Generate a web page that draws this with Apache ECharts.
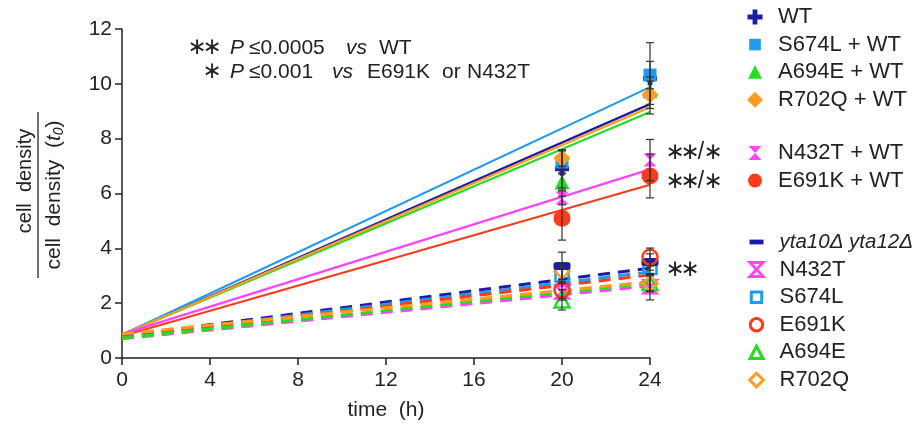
<!DOCTYPE html>
<html><head><meta charset="utf-8">
<script src="https://cdn.jsdelivr.net/npm/echarts@6/dist/echarts.min.js"></script>
<style>html,body{margin:0;padding:0;background:#fff}#c{width:920px;height:428px}</style>
</head><body><div id="c"></div>
<script>
// ---- data ----
const timePoints = [20, 24];
const fitTimes = [0, 24];
const xTicks = [0, 4, 8, 12, 16, 20, 24];
const yTicks = [0, 2, 4, 6, 8, 10, 12];
const seriesNames = ['WT', 'S674L + WT', 'A694E + WT', 'R702Q + WT', 'N432T + WT', 'E691K + WT',
  'yta10Δ yta12Δ', 'N432T', 'S674L', 'E691K', 'A694E', 'R702Q'];
// mean values at 20 h and 24 h
const seriesMeans = [
  [6.9, 10.2], [7.15, 10.32], [6.42, 9.75], [7.29, 9.6], [5.84, 7.22], [5.1, 6.64],
  [3.36, 3.5], [2.41, 2.6], [3.03, 3.3], [2.48, 3.68], [2.12, 2.75], [3.17, 2.72]
];
// error (±) at 20 h and 24 h
const seriesErrors = [
  [0.7, 1.3], [0.4, 0.5], [0.3, 0.5], [0.3, 0.5], [0.25, 0.75], [0.8, 0.8],
  [0.5, 0.3], [0.3, 0.48], [0.3, 0.3], [0.3, 0.33], [0.37, 0.3], [0.3, 0.3]
];
// linear fit values at 0 h and 24 h
const seriesFits = [
  [0.85, 9.26], [0.85, 9.88], [0.85, 8.97], [0.85, 9.15], [0.87, 6.88], [0.8, 6.32],
  [0.8, 3.28], [0.7, 2.63], [0.78, 3.14], [0.75, 3.03], [0.73, 2.73], [0.88, 2.78]
];

// ---- styles ----
const FONT = 'Liberation Sans, Arial, sans-serif';
const colors = ['#1c1ca8', '#1e9bf0', '#22dd22', '#ff9b1e', '#ff44ff', '#ff3a1a',
  '#1c1ca8', '#ff44ff', '#1e9bf0', '#ff3a1a', '#22dd22', '#ff9b1e'];
const CROSS = 'path://M4,0H8V4H12V8H8V12H4V8H0V4H4Z';
const HOUR = 'path://M0,0H10L0,12H10Z';
const symbols = [CROSS, 'rect', 'triangle', 'diamond', HOUR, 'circle',
  'roundRect', HOUR, 'rect', 'circle', 'triangle', 'diamond'];
const symbolSizes = [14, 13, 15, 17, 13, 17, [17, 8], 13, 13, 15, 15, 15];
// legend icons padded inside a 16x16 box
const B = 'path://M0,0M16,16';
const L_CROSS = B + 'M5.6,0.5H10.4V5.6H15.5V10.4H10.4V15.5H5.6V10.4H0.5V5.6H5.6Z';
const L_RECT = B + 'M2.2,2.2H13.8V13.8H2.2Z';
const L_TRI = B + 'M8,1L15,14.5H1Z';
const L_DIA = B + 'M8,0L16,8L8,16L0,8Z';
const L_HOUR = B + 'M1.5,1H14.5L1.5,15H14.5Z';
const L_CIRC = B + 'M1,8A7,7 0 1 1 15,8A7,7 0 1 1 1,8Z';
const L_DASH = B + 'M1,5.6H15V10.4H1Z';
const L_HRECT = B + 'M2.8,2.8H13.2V13.2H2.8Z';
const L_HCIRC = B + 'M1.8,8A6.2,6.2 0 1 1 14.2,8A6.2,6.2 0 1 1 1.8,8Z';
const L_HTRI = B + 'M8,1.8L14.5,14.2H1.5Z';
const L_HDIA = B + 'M8,1.2L14.8,8L8,14.8L1.2,8Z';
const legendIcons = [L_CROSS, L_RECT, L_TRI, L_DIA, L_HOUR, L_CIRC,
  L_DASH, L_HOUR, L_HRECT, L_HCIRC, L_HTRI, L_HDIA];
const hollow = i => i >= 7;

const series = [];
seriesNames.forEach((n, i) => {
  const dashed = i >= 6;
  series.push({
    name: n + ' fit', type: 'line', silent: true, z: 2,
    data: fitTimes.map((t, k) => [t, seriesFits[i][k]]),
    showSymbol: false, symbol: 'none',
    lineStyle: { color: colors[i], width: dashed ? 3 : 2.2, type: dashed ? [12, 8] : 'solid' }
  });
});
const scatterOrder = [0, 1, 2, 3, 4, 5, 7, 8, 10, 11, 6, 9];
scatterOrder.forEach(i => {
  const n = seriesNames[i];
  series.push({
    name: n, type: 'scatter', z: 4,
    data: timePoints.map((t, k) => [t, seriesMeans[i][k]]),
    symbol: symbols[i], symbolSize: symbolSizes[i],
    itemStyle: hollow(i)
      ? { color: 'rgba(255,255,255,0)', borderColor: colors[i], borderWidth: 2.5, opacity: 1 }
      : { color: colors[i], opacity: 1 }
  });
});
seriesNames.forEach((n, i) => {
  series.push({
    name: n + ' err', type: 'custom', z: 6, silent: true,
    data: timePoints.map((t, k) => [t, seriesMeans[i][k] - seriesErrors[i][k], seriesMeans[i][k] + seriesErrors[i][k]]),
    encode: { x: 0, y: [1, 2] },
    renderItem: (params, api) => {
      const lo = api.coord([api.value(0), api.value(1)]);
      const hi = api.coord([api.value(0), api.value(2)]);
      const w = 4, st = { stroke: '#333', lineWidth: 1.2 };
      return { type: 'group', children: [
        { type: 'line', shape: { x1: lo[0], y1: lo[1], x2: hi[0], y2: hi[1] }, style: st },
        { type: 'line', shape: { x1: lo[0] - w, y1: lo[1], x2: lo[0] + w, y2: lo[1] }, style: st },
        { type: 'line', shape: { x1: hi[0] - w, y1: hi[1], x2: hi[0] + w, y2: hi[1] }, style: st }
      ] };
    }
  });
});

function legendData(idx) {
  return idx.map(i => ({
    name: seriesNames[i], icon: legendIcons[i],
    itemStyle: hollow(i)
      ? { color: 'rgba(255,255,255,0)', borderColor: colors[i], borderWidth: 3 }
      : { color: colors[i], borderWidth: 0 }
  }));
}
const legendText = { fontSize: 22, fontFamily: FONT, color: '#222', padding: [0, 0, 0, 10], lineHeight: 22,
  rich: { it: { fontSize: 20.5, fontFamily: FONT, fontStyle: 'italic', color: '#222', lineHeight: 22 } } };
const legendBase = { orient: 'vertical', left: 747, padding: 0, itemWidth: 16, itemHeight: 16, itemGap: 5.6,
  selectedMode: false, textStyle: legendText };

// asterisk / annotation helpers (real text)
const AST = '23px DejaVu Sans';
function ast(x, y) {
  return { type: 'text', x: x, y: y, style: { text: '∗', font: AST, fill: '#222', align: 'center', verticalAlign: 'middle' } };
}
function slash(x, y) {
  return { type: 'text', x: x, y: y, style: { text: '/', font: '23px ' + FONT, fill: '#222', align: 'center', verticalAlign: 'middle' } };
}
function txt(s, x, y, italic) {
  return { type: 'text', x: x, y: y, style: { text: s, font: (italic ? 'italic ' : '') + '21px ' + FONT, fill: '#222', verticalAlign: 'middle' } };
}

const chart = echarts.init(document.getElementById('c'), null, { renderer: 'canvas' });
chart.setOption({
  animation: false,
  backgroundColor: '#fff',
  grid: { left: 122, right: 270, top: 29, bottom: 70 },
  xAxis: {
    type: 'value', min: 0, max: 24, interval: 4,
    name: 'time  (h)', nameLocation: 'middle', nameGap: 42,
    nameTextStyle: { fontSize: 21, fontFamily: FONT, color: '#222' },
    axisLine: { show: true, lineStyle: { color: '#222', width: 1.5 } },
    axisTick: { show: true, length: 7, lineStyle: { color: '#222', width: 1.5 } },
    axisLabel: { fontSize: 21, fontFamily: FONT, color: '#222', margin: 12 },
    splitLine: { show: false }
  },
  yAxis: {
    type: 'value', min: 0, max: 12, interval: 2,
    axisLine: { show: true, lineStyle: { color: '#222', width: 1.5 } },
    axisTick: { show: true, length: 7, lineStyle: { color: '#222', width: 1.5 } },
    axisLabel: { fontSize: 21, fontFamily: FONT, color: '#222', margin: 10 },
    splitLine: { show: false }
  },
  legend: [
    Object.assign({}, legendBase, { top: 6, data: legendData([0, 1, 2, 3]) }),
    Object.assign({}, legendBase, { top: 142, data: legendData([4, 5]) }),
    Object.assign({}, legendBase, { top: 231, data: legendData([6, 7, 8, 9, 10, 11]),
      formatter: n => n === 'yta10Δ yta12Δ' ? '{it|yta10Δ yta12Δ}' : n })
  ],
  graphic: [
    { type: 'group', x: 38, y: 195, rotation: Math.PI / 2, children: [
      { type: 'text', x: 14, y: -3, style: { text: 'cell  density', font: '20px ' + FONT, fill: '#222', align: 'center', verticalAlign: 'bottom' } },
      { type: 'line', shape: { x1: -83, y1: 0, x2: 83, y2: 0 }, style: { stroke: '#222', lineWidth: 1.3 } },
      { type: 'text', x: 0, y: 4, style: {
        text: '{a|cell  density  (}{i|t}{s|0}{a|)}', align: 'center', verticalAlign: 'top',
        rich: {
          a: { font: '21px ' + FONT, fill: '#222', lineHeight: 24 },
          i: { font: 'italic 21px ' + FONT, fill: '#222', lineHeight: 24 },
          s: { font: 'italic 14px ' + FONT, fill: '#222', lineHeight: 24, verticalAlign: 'bottom', padding: [8, 0, 0, 0] }
        } } }
    ] },
    ast(197, 48), ast(212, 48),
    txt('P', 230, 48, true), txt('≤0.0005', 249, 48), txt('vs', 346, 48, true), txt('WT', 379, 48),
    ast(212, 72),
    txt('P', 230, 72, true), txt('≤0.001', 249, 72), txt('vs', 332, 72, true),
    txt('E691K', 367, 72), txt('or', 442, 72), txt('N432T', 467, 72),
    ast(675, 153), ast(690, 153), slash(701, 153), ast(713, 153),
    ast(675, 182), ast(690, 182), slash(701, 182), ast(713, 182),
    ast(675, 270), ast(690, 270)
  ],
  series
});
</script></body></html>
